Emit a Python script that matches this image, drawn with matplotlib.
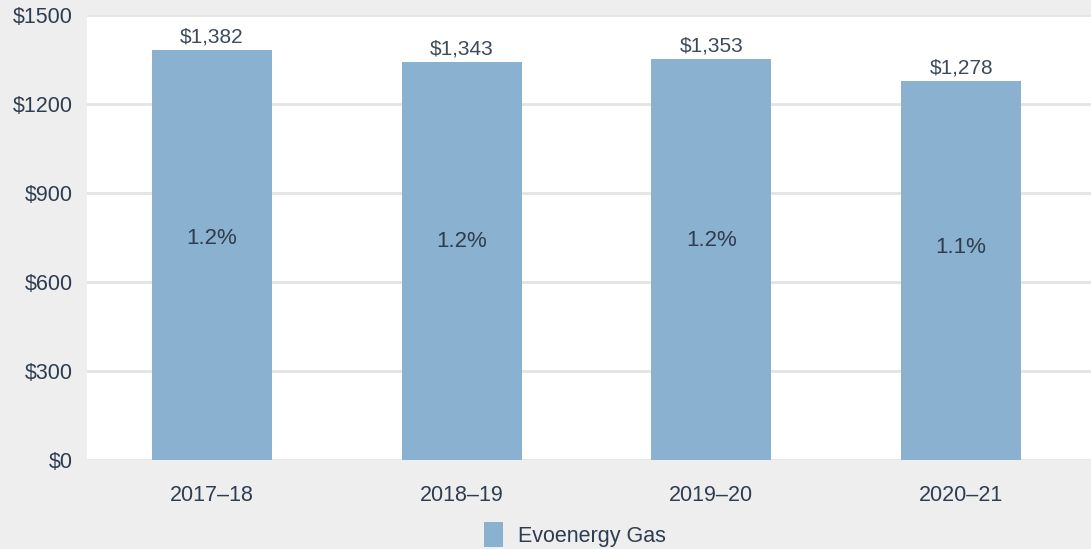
import matplotlib.pyplot as plt

# years -> financial year
# bills -> average annual gas bill ($)
# shares -> bill as share of household income

years = ['2017–18', '2018–19', '2019–20', '2020–21']
bills = [1382, 1343, 1353, 1278]
shares = ['1.2%', '1.2%', '1.2%', '1.1%']
yticks = [0, 300, 600, 900, 1200, 1500]

bar_col = '#8ab1cf'
txt_col = '#2e3d4f'
plt.rcParams['font.family'] = ['Liberation Sans', 'DejaVu Sans']

fig = plt.figure(figsize=(10.91, 5.49), dpi=100, facecolor='#eeeeee')
ax = fig.add_axes([87 / 1091, 1 - 460 / 549, 1 - 87 / 1091, 445 / 549])
ax.set_facecolor('white')

x = list(range(len(years)))
ax.bar(x, bills, width=0.48, color=bar_col, zorder=3, label='Evoenergy Gas')

for i, v in enumerate(bills):
    ax.annotate(f'${v:,}', (i, v), xytext=(0, 2.5), textcoords='offset points',
                ha='center', va='bottom', fontsize=15, color='#3e4a59', zorder=4)
    ax.text(i, 0.29 * v + 347, shares[i], ha='center', va='center',
            fontsize=16, color=txt_col, zorder=4)

ax.set_xlim(-0.5, 3.52)
ax.set_ylim(0, 1500)
ax.set_yticks(yticks)
ax.set_yticklabels([f'${t}' for t in yticks])
ax.set_xticks(x)
ax.set_xticklabels(years)
ax.tick_params(axis='y', length=0, pad=10, labelsize=15.5, labelcolor=txt_col)
ax.tick_params(axis='x', length=0, pad=18, labelsize=15.5, labelcolor=txt_col)
ax.grid(axis='y', color='#e4e4e4', linewidth=2, zorder=0)
ax.set_axisbelow(True)
for s in ax.spines.values():
    s.set_visible(False)

leg = fig.legend(loc='center', bbox_to_anchor=(0.527, 0.026), frameon=False,
                 fontsize=15.5, handlelength=0.9, handleheight=1.4, handletextpad=0.7)
for t in leg.get_texts():
    t.set_color(txt_col)

fig.savefig('out.png', dpi=100, facecolor=fig.get_facecolor())
